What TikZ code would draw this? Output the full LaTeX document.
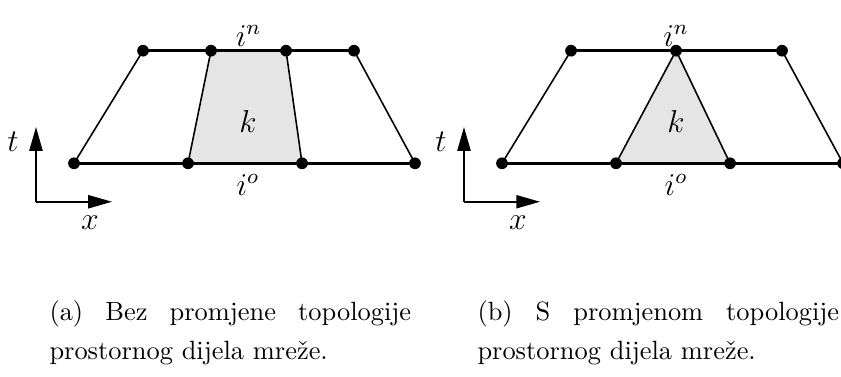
\documentclass[tikz,border=0pt]{standalone}
\usepackage{amsmath}
\usepackage{tikz}
\usetikzlibrary{arrows.meta,positioning,calc}

\begin{document}
\begin{tikzpicture}[scale=1.0,every node/.style={font=\large},
    slab/.style={line width=1.1pt},
    side/.style={line width=0.6pt},
    cell/.style={fill=gray!20},
    axis/.style={line width=0.6pt,-{Triangle[length=9pt,width=5pt]}},
    capt/.style={font={\fontsize{10pt}{14.6pt}\selectfont},text width=137pt,align=justify,inner sep=0pt,anchor=north west}]
  \useasboundingbox (0,0) rectangle (11.196,5.006);

  % ---- (a) without topology change
  % time levels: new (top) and old (bottom)
  \coordinate (an1) at (1.904,4.331);
  \coordinate (an2) at (2.809,4.331);
  \coordinate (an3) at (3.808,4.331);
  \coordinate (an4) at (4.713,4.331);
  \coordinate (ao1) at (0.985,2.832);
  \coordinate (ao2) at (2.503,2.832);
  \coordinate (ao3) at (4.021,2.832);
  \coordinate (ao4) at (5.525,2.832);
  % space-time cell k
  \fill[cell] (ao2) -- (ao3) -- (an3) -- (an2) -- cycle;
  \draw[side] (ao1) -- (an1);
  \draw[side] (ao2) -- (an2);
  \draw[side] (ao3) -- (an3);
  \draw[side] (ao4) -- (an4);
  \draw[slab] (an1) -- (an4);
  \draw[slab] (ao1) -- (ao4);
  \foreach \p in {an1,an2,an3,an4,ao1,ao2,ao3,ao4}
    \fill (\p) circle (0.078);
  \node (ak) at (3.302,3.395) {$k$};
  \node[above,inner sep=1.5pt] (ain) at ($(an2)!0.5!(an3)$) {$i^n$};
  \node (aio) at (3.302,2.543) {$i^o$};
  % axes
  \coordinate (a0) at (0.479,2.320);
  \coordinate (at) at (0.479,3.315);
  \coordinate (ax) at (1.491,2.320);
  \draw[axis] (a0) -- (at);
  \draw[axis] (a0) -- (ax);
  \node (alt) at (0.173,3.115) {$t$};
  \node (alx) at (1.198,2.037) {$x$};
  \node[capt] (acap) at (0.652,1.01)
    {(a) Bez promjene topologije\linebreak prostornog dijela mre\v{z}e.};

  % ---- (b) with topology change
  \begin{scope}[xshift=5.698cm]
    \coordinate (bn1) at (1.904,4.331);
    \coordinate (bn2) at (3.302,4.331);
    \coordinate (bn3) at (4.713,4.331);
    \coordinate (bo1) at (0.985,2.832);
    \coordinate (bo2) at (2.503,2.832);
    \coordinate (bo3) at (4.021,2.832);
    \coordinate (bo4) at (5.525,2.832);
    % degenerate cell k
    \fill[cell] (bo2) -- (bo3) -- (bn2) -- cycle;
    \draw[side] (bo1) -- (bn1);
    \draw[side] (bo2) -- (bn2);
    \draw[side] (bo3) -- (bn2);
    \draw[side] (bo4) -- (bn3);
    \draw[slab] (bn1) -- (bn3);
    \draw[slab] (bo1) -- (bo4);
    \foreach \p in {bn1,bn2,bn3,bo1,bo2,bo3,bo4}
      \fill (\p) circle (0.078);
    \node (bk) at (3.302,3.395) {$k$};
    \node[above,inner sep=1.5pt] (bin) at (bn2) {$i^n$};
    \node (bio) at (3.302,2.543) {$i^o$};
    % axes
    \coordinate (b0) at (0.479,2.320);
    \coordinate (bt) at (0.479,3.315);
    \coordinate (bx) at (1.491,2.320);
    \draw[axis] (b0) -- (bt);
    \draw[axis] (b0) -- (bx);
    \node (blt) at (0.173,3.115) {$t$};
    \node (blx) at (1.198,2.037) {$x$};
    \node[capt] (bcap) at (0.652,1.01)
      {(b) S promjenom topologije\linebreak prostornog dijela mre\v{z}e.};
  \end{scope}
\end{tikzpicture}
\end{document}
